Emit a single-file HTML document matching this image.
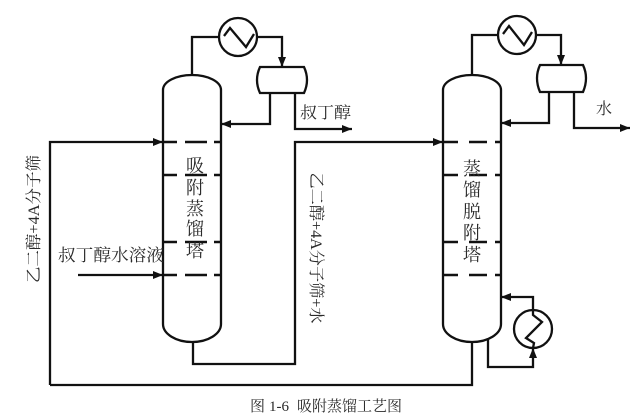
<!DOCTYPE html>
<html>
<head>
<meta charset="utf-8">
<style>
  html,body{margin:0;padding:0;background:#fff;}
  svg{display:block;}
  text{font-family:"Liberation Serif","Noto Serif CJK SC","Noto Sans CJK SC",serif;fill:#2a2a2a;}
</style>
</head>
<body>
<svg width="640" height="413" viewBox="0 0 640 413" xmlns="http://www.w3.org/2000/svg">
  <rect width="640" height="413" fill="#fff"/>
  <defs>
    <marker id="ar" viewBox="0 0 10 8" refX="10" refY="4" markerWidth="10" markerHeight="8" markerUnits="userSpaceOnUse" orient="auto">
      <path d="M0,0 L10,4 L0,8 Z" fill="#111"/>
    </marker>
  </defs>
  <g fill="none" stroke="#111" stroke-width="2.3" stroke-linejoin="miter">
    <!-- Column 1 -->
    <path d="M163,90 A29,15 0 0 1 221,90 L221,324 A29,18 0 0 1 163,324 Z"/>
    <!-- Column 2 -->
    <path d="M443,90 A29,15 0 0 1 501,90 L501,324 A29,18 0 0 1 443,324 Z"/>

    <!-- Dashed trays -->
    <g stroke-width="2.4">
      <path d="M163,142 H177 M185,142 H207 M214,142 H221"/>
      <path d="M163,175 H177 M185,175 H207 M214,175 H221"/>
      <path d="M163,242 H177 M185,242 H207 M214,242 H221"/>
      <path d="M163,275 H177 M185,275 H207 M214,275 H221"/>
      <path d="M443,142 H458 M469,142 H487 M495,142 H501"/>
      <path d="M443,175 H458 M469,175 H487 M495,175 H501"/>
      <path d="M443,242 H458 M469,242 H487 M495,242 H501"/>
      <path d="M443,275 H458 M469,275 H487 M495,275 H501"/>
    </g>

    <!-- Column 1 overhead -->
    <path d="M192,75 V37 H219"/>
    <circle cx="238" cy="37" r="19"/>
    <path d="M224,36 L230,28 L246,47 L254,34"/>
    <path d="M257,37 H282 V67" marker-end="url(#ar)"/>
    <path d="M260,67 L304,67 Q310,80 304,93 L260,93 Q254,80 260,67 Z"/>
    <path d="M270,93 V124 H221" marker-end="url(#ar)"/>
    <path d="M295,93 V129 H352" marker-end="url(#ar)"/>

    <!-- Column 2 overhead -->
    <path d="M472,75 V35 H498"/>
    <circle cx="517" cy="35" r="19"/>
    <path d="M503,34 L509,26 L524,45 L532,32"/>
    <path d="M536,35 H561 V65" marker-end="url(#ar)"/>
    <path d="M540,65 L583,65 Q589,78 583,92 L540,92 Q534,78 540,65 Z"/>
    <path d="M549,92 V123 H501" marker-end="url(#ar)"/>
    <path d="M574,92 V128 H630" marker-end="url(#ar)"/>

    <!-- Feeds -->
    <path d="M50,385 V142 H163" marker-end="url(#ar)"/>
    <path d="M78,275 H163" marker-end="url(#ar)"/>

    <!-- Column 1 bottoms to column 2 -->
    <path d="M193,342 V364 H295 V142 H443" marker-end="url(#ar)"/>

    <!-- Column 2 bottoms recycle -->
    <path d="M472,342 V385 H50"/>

    <!-- Reboiler -->
    <path d="M488,338 V367 H533 V348" marker-end="url(#ar)"/>
    <circle cx="533" cy="329" r="19"/>
    <path d="M533,310 V297 H501" marker-end="url(#ar)"/>
    <path d="M533,310 L533,315 L542,322 L526,338 L534,343 L533,348"/>
  </g>

  <!-- Labels -->
  <text x="300" y="118" font-size="16" textLength="51" lengthAdjust="spacingAndGlyphs">叔丁醇</text>
  <text x="596" y="114" font-size="16">水</text>
  <text x="58" y="261" font-size="17" textLength="106" lengthAdjust="spacingAndGlyphs">叔丁醇水溶液</text>

  <g font-size="18" text-anchor="middle">
    <text x="195" y="172">吸</text>
    <text x="195" y="194">附</text>
    <text x="195" y="215">蒸</text>
    <text x="195" y="235">馏</text>
    <text x="195" y="257">塔</text>

    <text x="472" y="175">蒸</text>
    <text x="472" y="196">馏</text>
    <text x="472" y="218">脱</text>
    <text x="472" y="239">附</text>
    <text x="472" y="261">塔</text>
  </g>

  <text transform="translate(39,219) rotate(-90)" x="0" y="0" font-size="16" text-anchor="middle" textLength="128" lengthAdjust="spacingAndGlyphs">乙二醇+4A分子筛</text>
  <text transform="translate(311,248) rotate(90)" x="0" y="0" font-size="16" text-anchor="middle" textLength="151" lengthAdjust="spacingAndGlyphs">乙二醇+4A分子筛+水</text>

  <g font-size="15" text-anchor="middle">
    <text x="257.5" y="411">图</text>
    <text x="279" y="411">1-6</text>
    <text x="304.5" y="411">吸</text>
    <text x="319.5" y="411">附</text>
    <text x="334.5" y="411">蒸</text>
    <text x="349.5" y="411">馏</text>
    <text x="364.5" y="411">工</text>
    <text x="379.5" y="411">艺</text>
    <text x="394.5" y="411">图</text>
  </g>
</svg>
</body>
</html>
